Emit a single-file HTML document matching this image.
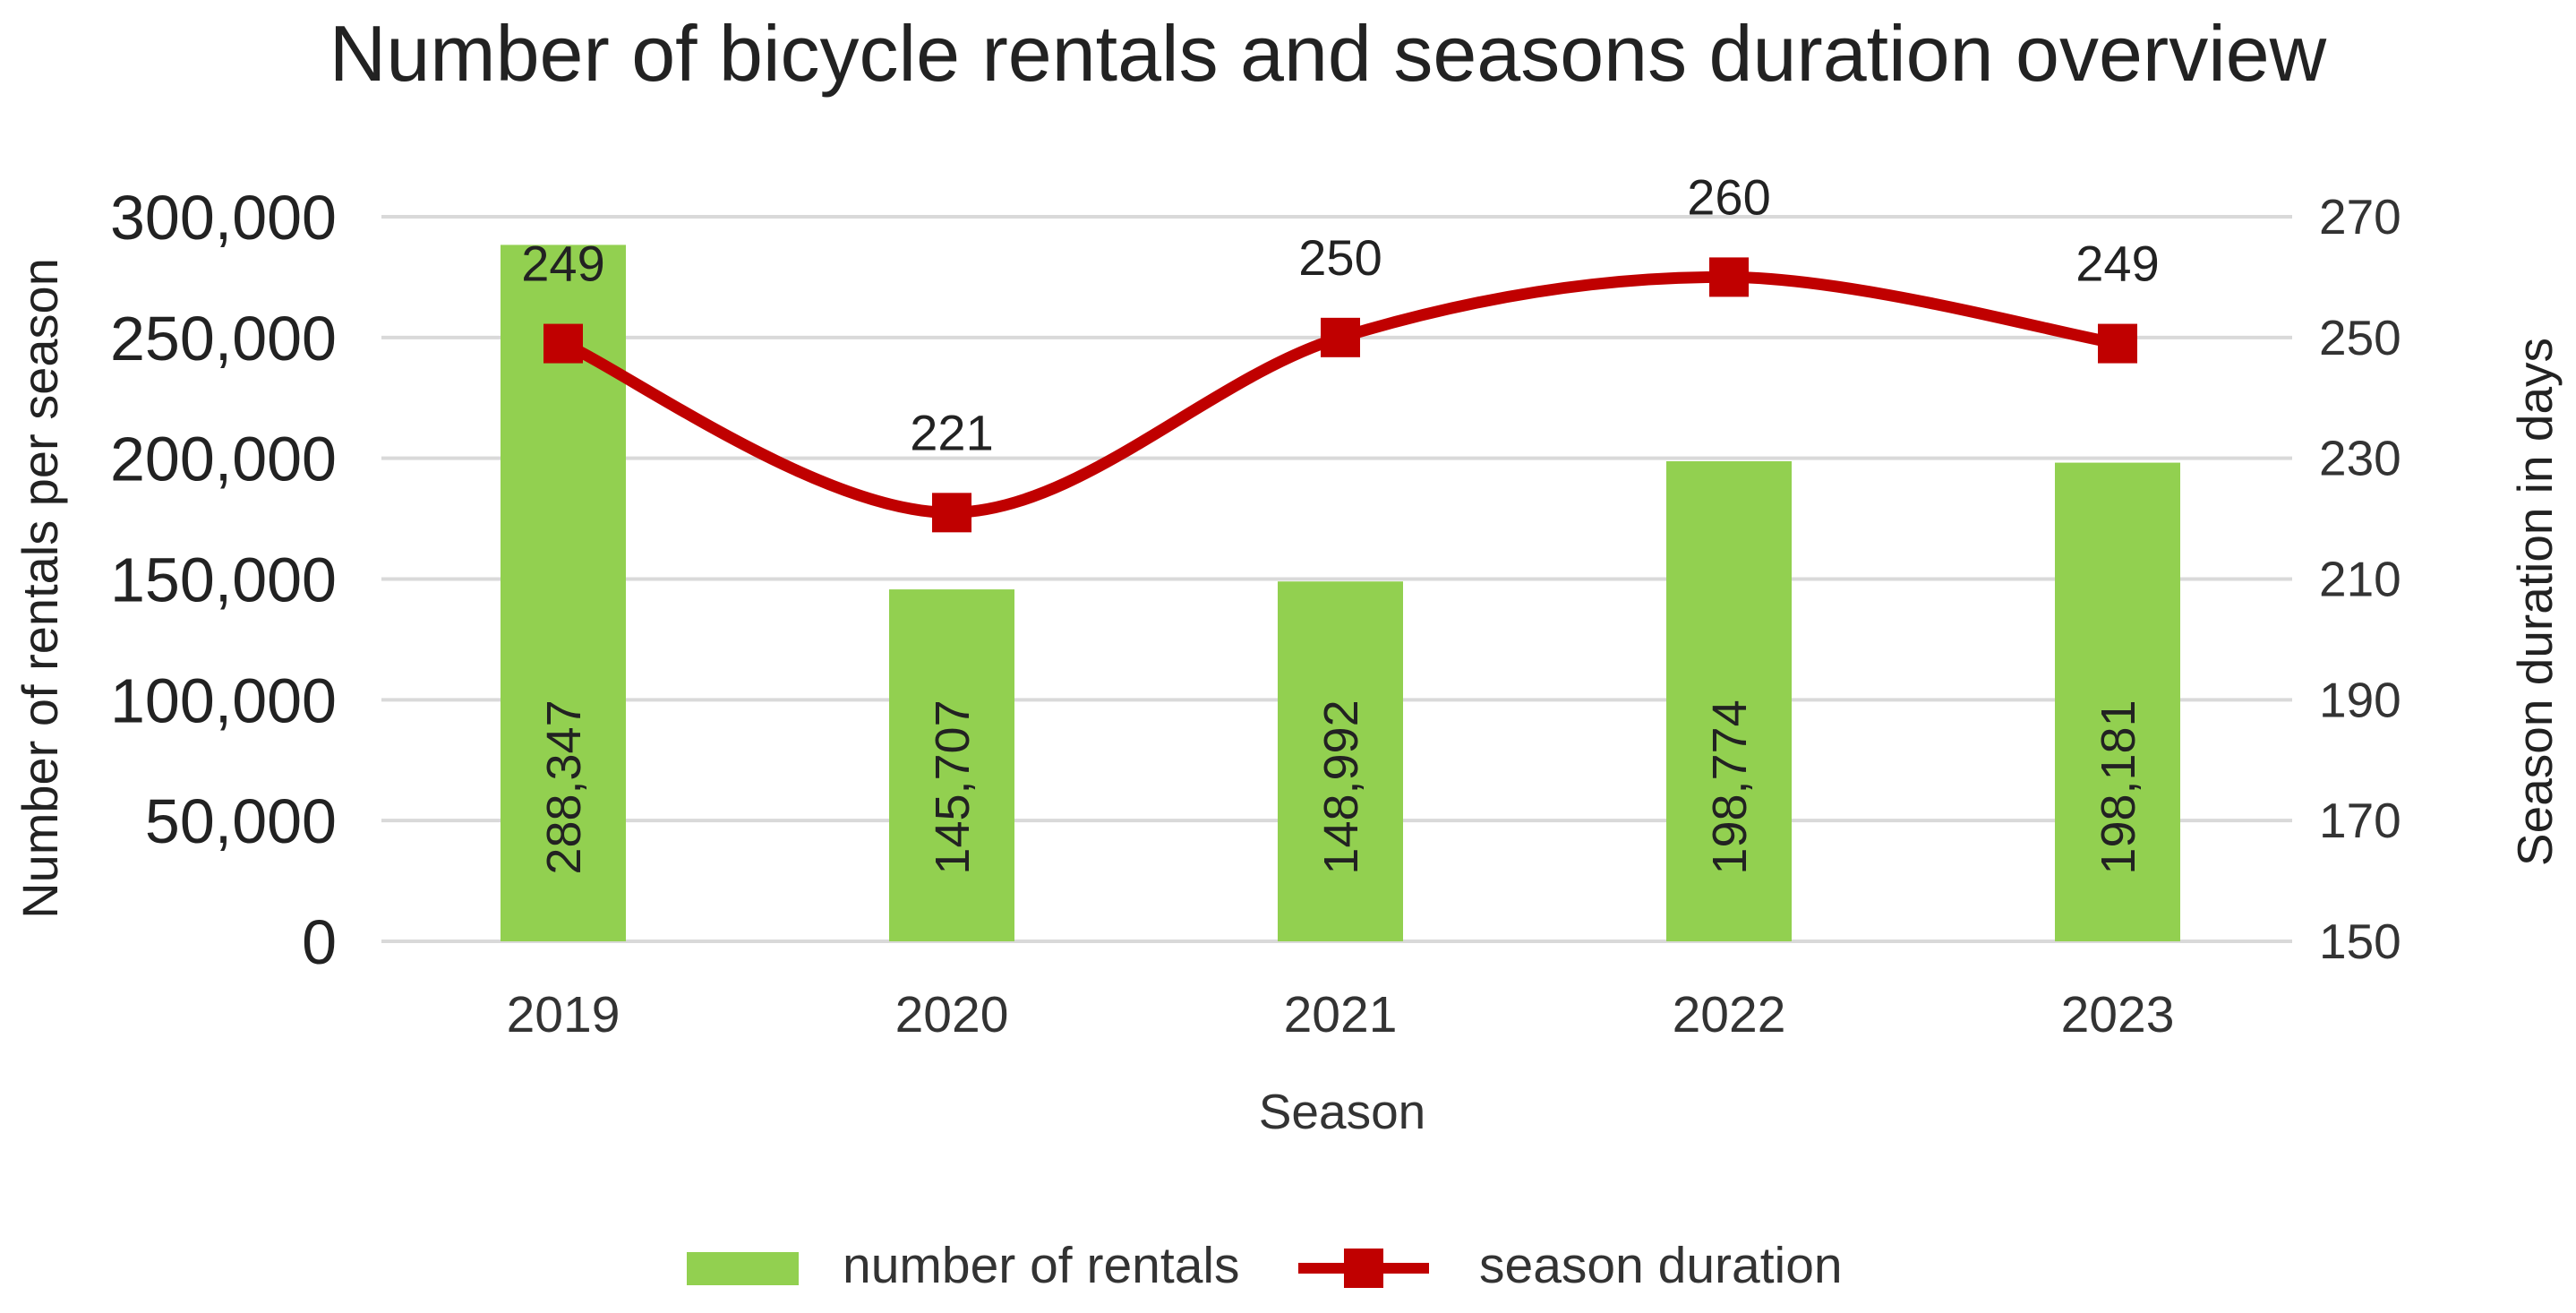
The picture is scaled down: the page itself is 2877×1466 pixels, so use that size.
<!DOCTYPE html>
<html><head><meta charset="utf-8"><style>
html,body{margin:0;padding:0;background:#fff;}
svg{display:block;font-family:"Liberation Sans",sans-serif;}
</style></head><body>
<svg id="chart" width="2877" height="1466" viewBox="0 0 2877 1466">
<text x="1483" y="90" font-size="88" text-anchor="middle" fill="#222">Number of bicycle rentals and seasons duration overview</text>
<g id="grid"></g>
<g id="bars"></g>
<g id="line"></g>
<g id="labels"></g>
<text transform="translate(64,657) rotate(-90)" font-size="56" text-anchor="middle" fill="#222">Number of rentals per season</text>
<text transform="translate(2850,672) rotate(-90)" font-size="55" text-anchor="middle" fill="#222">Season duration in days</text>
<text x="1499" y="1260" font-size="55" text-anchor="middle" fill="#333">Season</text>
<g>
<rect x="767" y="1398" width="125" height="37" fill="#92D050"/>
<text x="941" y="1432" font-size="57" fill="#333">number of rentals</text>
<line x1="1450" y1="1416" x2="1596" y2="1416" stroke="#C00000" stroke-width="12"/>
<rect x="1501" y="1394" width="44" height="44" fill="#C00000"/>
<text x="1652" y="1432" font-size="57" fill="#333">season duration</text>
</g>
</svg>
<script>
const categories = ["2019","2020","2021","2022","2023"];
const rentals = [288347,145707,148992,198774,198181];
const rentalLabels = ["288,347","145,707","148,992","198,774","198,181"];
const duration = [249,221,250,260,249];
const leftTicks = [0,50000,100000,150000,200000,250000,300000];
const leftTickLabels = ["0","50,000","100,000","150,000","200,000","250,000","300,000"];
const rightTicks = [150,170,190,210,230,250,270];

const NS="http://www.w3.org/2000/svg";
const gx0=426,gx1=2560,yTop=242,yBot=1051;
const xStart=412,band=434;
const xC=i=>xStart+band*(i+0.5);
const yL=v=>yBot-(v/300000)*(yBot-yTop);
const yR=v=>yBot-((v-150)/120)*(yBot-yTop);
function mk(tag,attrs,parent,text){const e=document.createElementNS(NS,tag);for(const k in attrs)e.setAttribute(k,attrs[k]);if(text!==undefined)e.textContent=text;parent.appendChild(e);return e;}
const grid=document.getElementById('grid'),bars=document.getElementById('bars'),line=document.getElementById('line'),labels=document.getElementById('labels');
leftTicks.forEach((t,i)=>{
  const g=mk('line',{x1:gx0,x2:gx1,y1:yL(t),y2:yL(t),stroke:'#d9d9d9','stroke-width':4},grid);
  
  
  const tl=mk('text',{x:376,y:yL(t)+25,'font-size':70,'text-anchor':'end',fill:'#222'},grid,leftTickLabels[i]);
  
  
});
rightTicks.forEach(t=>{
  const tl=mk('text',{x:2590,y:yR(t)+19,'font-size':55,fill:'#333'},grid,String(t));
  
  
});
categories.forEach((c,i)=>{
  const b=mk('rect',{x:xC(i)-70,y:yL(rentals[i]),width:140,height:yBot-yL(rentals[i]),fill:'#92D050'},bars);
  
  
  const bl=mk('text',{transform:`translate(${xC(i)+19},${yBot-172}) rotate(-90)`,'font-size':54,'text-anchor':'middle',fill:'#222'},labels,rentalLabels[i]);
  
  
  const xl=mk('text',{x:xC(i),y:1152,'font-size':57,'text-anchor':'middle',fill:'#333'},labels,c);
  
  
});
const pts=duration.map((d,i)=>[xC(i),yR(d)]);
let d=`M${pts[0][0]},${pts[0][1]}`;
for(let i=0;i<pts.length-1;i++){
  const p0=pts[i-1]||pts[i],p1=pts[i],p2=pts[i+1],p3=pts[i+2]||p2;
  const c1=[p1[0]+(p2[0]-p0[0])/6,p1[1]+(p2[1]-p0[1])/6];
  const c2=[p2[0]-(p3[0]-p1[0])/6,p2[1]-(p3[1]-p1[1])/6];
  d+=` C${c1[0]},${c1[1]} ${c2[0]},${c2[1]} ${p2[0]},${p2[1]}`;
}
const path=mk('path',{d:d,fill:'none',stroke:'#C00000','stroke-width':13},line);


pts.forEach((p,i)=>{
  const m=mk('rect',{x:p[0]-22,y:p[1]-22,width:44,height:44,fill:'#C00000'},line);
  
  
  const l=mk('text',{x:p[0],y:p[1]-70,'font-size':56,'text-anchor':'middle',fill:'#222'},labels,String(duration[i]));
  
  
});
</script>
</body></html>
